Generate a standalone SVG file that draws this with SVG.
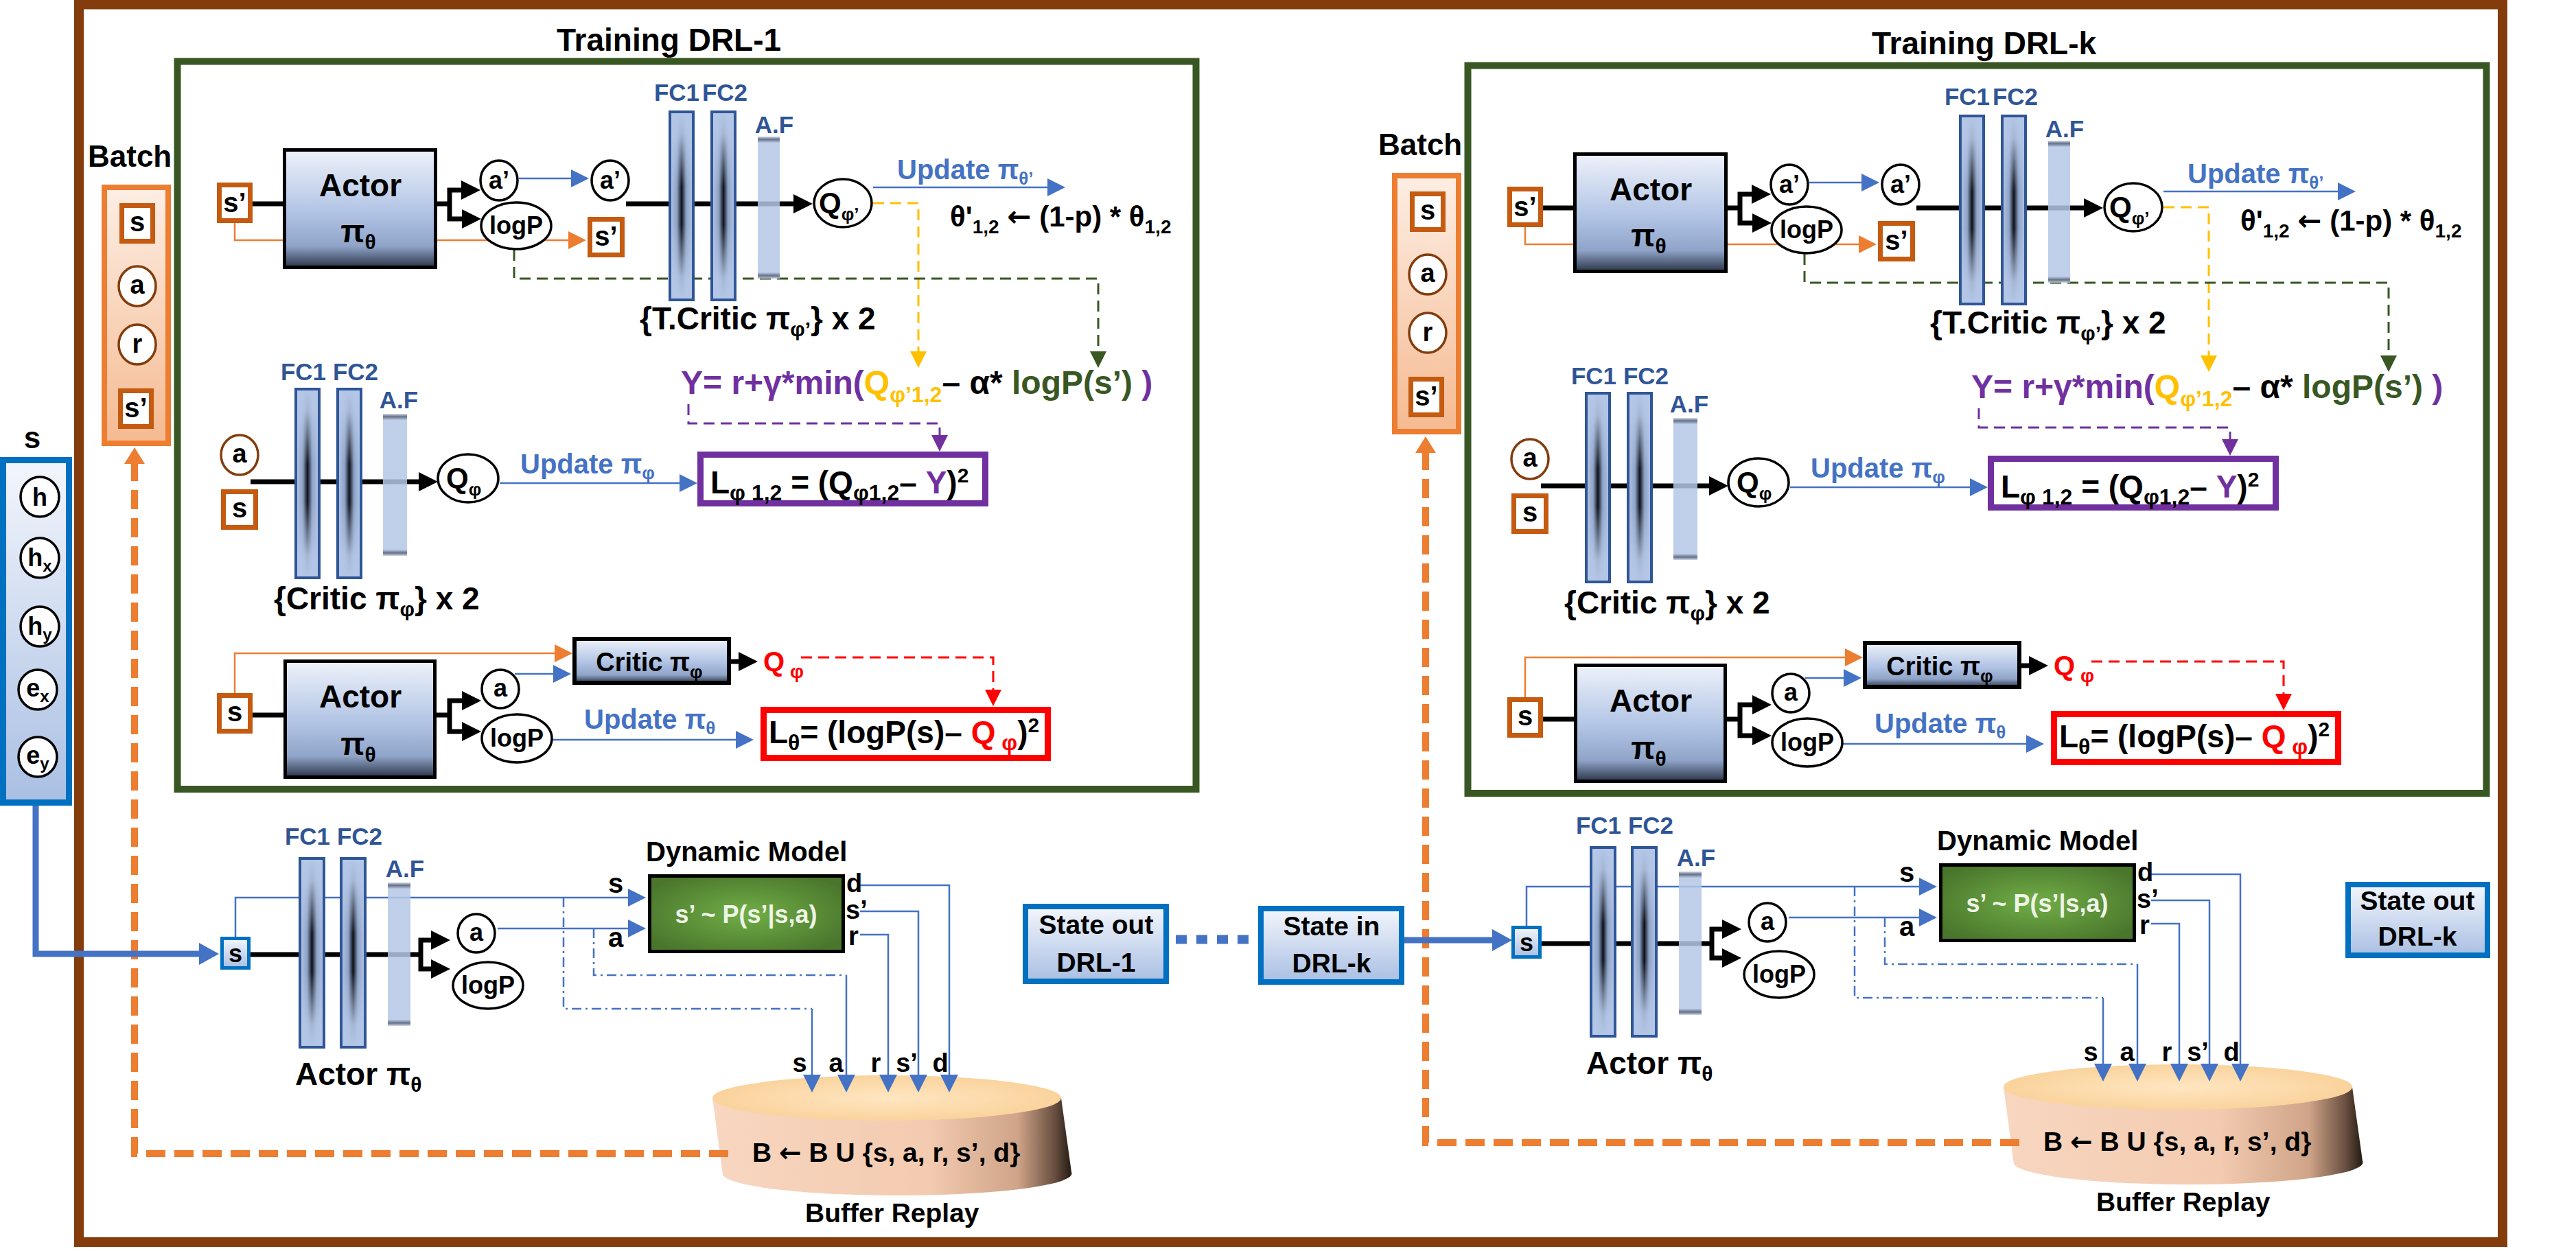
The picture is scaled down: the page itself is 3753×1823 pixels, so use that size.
<svg xmlns="http://www.w3.org/2000/svg" width="3753" height="1823" viewBox="0 0 3753 1823">
<defs>
<style>
text{font-family:"Liberation Sans",Arial,"DejaVu Sans",sans-serif;font-weight:bold}
.m{text-anchor:middle}
.ar{font-family:"DejaVu Sans",sans-serif}
.ttl{font-size:46px}
.fc{font-size:35px;fill:#2F5597}
.up{font-size:40px;fill:#4472C4}
.sb{font-size:39px}
.cir{fill:#fff;stroke:#000;stroke-width:3.5}
.cirB{fill:#fff;stroke:#843C0C;stroke-width:3.5}
.sq{fill:#fff;stroke:#C55A11;stroke-width:7}
.act{fill:url(#gActor);stroke:#000;stroke-width:5}
.fch{fill:url(#gFCh)}
.fcv{fill:url(#gFCv);stroke:#2F5597;stroke-width:4}
.af{fill:url(#gAF)}
.stb{fill:url(#gLB);stroke:#0070C0;stroke-width:8}
.kl{fill:none;stroke:#000;stroke-width:7}
.bl{fill:none;stroke:#4472C4;stroke-width:2.5}
.bdd{fill:none;stroke:#4472C4;stroke-width:2.5;stroke-dasharray:14 6 3 6}
.ol{fill:none;stroke:#ED7D31;stroke-width:2.5}
.yd{fill:none;stroke:#FFC000;stroke-width:3;stroke-dasharray:16 9}
.gd{fill:none;stroke:#385723;stroke-width:3;stroke-dasharray:16 9}
.pd{fill:none;stroke:#7030A0;stroke-width:3;stroke-dasharray:16 9}
.rd{fill:none;stroke:#FF0000;stroke-width:3;stroke-dasharray:16 9}
.od{fill:none;stroke:#ED7D31;stroke-width:10;stroke-dasharray:28 13}
.bt{fill:none;stroke:#4472C4;stroke-width:9}
.bdot{fill:none;stroke:#4472C4;stroke-width:13;stroke-dasharray:16 14}
</style>
<linearGradient id="gActor" x1="0" y1="0" x2="0" y2="1"><stop offset="0" stop-color="#EEF2FA"/><stop offset="0.55" stop-color="#AFC2E4"/><stop offset="0.82" stop-color="#8FA4C8"/><stop offset="1" stop-color="#2B3548"/></linearGradient>
<linearGradient id="gFCh" x1="0" y1="0" x2="1" y2="0"><stop offset="0" stop-color="#B4C7E7"/><stop offset="0.3" stop-color="#8EA2C6"/><stop offset="0.5" stop-color="#0B0F18"/><stop offset="0.7" stop-color="#8EA2C6"/><stop offset="1" stop-color="#B4C7E7"/></linearGradient>
<linearGradient id="gFCv" x1="0" y1="0" x2="0" y2="1"><stop offset="0" stop-color="#B4C7E7" stop-opacity="1"/><stop offset="0.12" stop-color="#B4C7E7" stop-opacity="0.9"/><stop offset="0.4" stop-color="#B4C7E7" stop-opacity="0"/><stop offset="0.6" stop-color="#B4C7E7" stop-opacity="0"/><stop offset="0.88" stop-color="#B4C7E7" stop-opacity="0.9"/><stop offset="1" stop-color="#B4C7E7" stop-opacity="1"/></linearGradient>
<linearGradient id="gAF" x1="0" y1="0" x2="0" y2="1"><stop offset="0" stop-color="#C9D5EA" stop-opacity="0.85"/><stop offset="0.02" stop-color="#4A5670" stop-opacity="0.85"/><stop offset="0.045" stop-color="#B4C7E7" stop-opacity="0.85"/><stop offset="0.955" stop-color="#B4C7E7" stop-opacity="0.85"/><stop offset="0.98" stop-color="#4A5670" stop-opacity="0.85"/><stop offset="1" stop-color="#C9D5EA" stop-opacity="0.85"/></linearGradient>
<linearGradient id="gLB" x1="0" y1="0" x2="0" y2="1"><stop offset="0" stop-color="#F3F6FC"/><stop offset="1" stop-color="#A9BFE3"/></linearGradient>
<linearGradient id="gBatch" x1="0" y1="0" x2="0" y2="1"><stop offset="0" stop-color="#FDEEE4"/><stop offset="1" stop-color="#F5BA91"/></linearGradient>
<radialGradient id="gDyn" cx="0.5" cy="0.5" r="0.6"><stop offset="0" stop-color="#71AE47"/><stop offset="1" stop-color="#4A762C"/></radialGradient>
<linearGradient id="gCyl" x1="0" y1="0" x2="1" y2="0"><stop offset="0" stop-color="#F8D6C0"/><stop offset="0.6" stop-color="#F3CBB0"/><stop offset="0.85" stop-color="#CFA488"/><stop offset="0.95" stop-color="#6B5142"/><stop offset="1" stop-color="#241A12"/></linearGradient>
<radialGradient id="gCylTop" cx="0.5" cy="0.5" r="0.5"><stop offset="0" stop-color="#FFE6C2"/><stop offset="1" stop-color="#FAD39C"/></radialGradient>
<marker id="mK" markerUnits="userSpaceOnUse" markerWidth="28" markerHeight="28" refX="0" refY="14" orient="auto"><path d="M0,0 L28,14 L0,28 Z" fill="#000"/></marker>
<marker id="mB" markerUnits="userSpaceOnUse" markerWidth="26" markerHeight="26" refX="0" refY="13" orient="auto"><path d="M0,0 L26,13 L0,26 Z" fill="#4472C4"/></marker>
<marker id="mO" markerUnits="userSpaceOnUse" markerWidth="26" markerHeight="26" refX="0" refY="13" orient="auto"><path d="M0,0 L26,13 L0,26 Z" fill="#ED7D31"/></marker>
<marker id="mY" markerUnits="userSpaceOnUse" markerWidth="24" markerHeight="24" refX="0" refY="12" orient="auto"><path d="M0,0 L24,12 L0,24 Z" fill="#FFC000"/></marker>
<marker id="mG" markerUnits="userSpaceOnUse" markerWidth="24" markerHeight="24" refX="0" refY="12" orient="auto"><path d="M0,0 L24,12 L0,24 Z" fill="#385723"/></marker>
<marker id="mP" markerUnits="userSpaceOnUse" markerWidth="24" markerHeight="24" refX="0" refY="12" orient="auto"><path d="M0,0 L24,12 L0,24 Z" fill="#7030A0"/></marker>
<marker id="mR" markerUnits="userSpaceOnUse" markerWidth="24" markerHeight="24" refX="0" refY="12" orient="auto"><path d="M0,0 L24,12 L0,24 Z" fill="#FF0000"/></marker>
<marker id="mBT" markerUnits="userSpaceOnUse" markerWidth="29" markerHeight="32" refX="0" refY="16" orient="auto"><path d="M0,0 L29,16 L0,32 Z" fill="#4472C4"/></marker>
<marker id="mOT" markerUnits="userSpaceOnUse" markerWidth="24" markerHeight="30" refX="0" refY="15" orient="auto"><path d="M0,0 L24,15 L0,30 Z" fill="#ED7D31"/></marker>
</defs>
<rect width="3753" height="1823" fill="#fff"/>

<!-- containers -->
<g id="outer-frame"><rect x="115" y="6.5" width="3531" height="1803.5" fill="none" stroke="#843C0C" stroke-width="14"/></g>
<g id="training-box-1"><rect x="258.5" y="89.5" width="1484" height="1060.5" fill="none" stroke="#385723" stroke-width="10"/><text class="ttl" x="811" y="74">Training DRL-1</text></g>
<g id="training-box-k"><rect x="2138.5" y="95.5" width="1484" height="1060.5" fill="none" stroke="#385723" stroke-width="10"/><text class="ttl" x="2727" y="79">Training DRL-k</text></g>

<!-- buffers (drawn under their incoming arrows) -->
<g id="buffer-1">
 <path d="M1038,1600 L1053,1712 A254,32 0 0 0 1561,1708 L1546,1600 Z" fill="url(#gCyl)"/>
 <ellipse cx="1292" cy="1600" rx="254" ry="33" fill="url(#gCylTop)"/>
 <text x="1096" y="1693" class="sb">B <tspan class="ar">←</tspan> B U {s, a, r, s’, d}</text>
 <text x="1173" y="1781" class="sb">Buffer Replay</text>
</g>
<g id="buffer-k" transform="translate(1881,-16)">
 <path d="M1038,1600 L1053,1712 A254,32 0 0 0 1561,1708 L1546,1600 Z" fill="url(#gCyl)"/>
 <ellipse cx="1292" cy="1600" rx="254" ry="33" fill="url(#gCylTop)"/>
 <text x="1096" y="1693" class="sb">B <tspan class="ar">←</tspan> B U {s, a, r, s’, d}</text>
 <text x="1173" y="1781" class="sb">Buffer Replay</text>
</g>

<!-- connectors -->
<g id="connectors">
 <g id="conn-1">
  <path class="ol" d="M342,324 V350 H828" marker-end="url(#mO)"/>
  <path class="kl" d="M367,297 H414"/>
  <path class="kl" d="M634,297 H655"/>
  <path class="kl" d="M655,297 V277 H672" marker-end="url(#mK)"/>
  <path class="kl" d="M655,297 V319 H673" marker-end="url(#mK)"/>
  <path class="bl" d="M756,260 H832" marker-end="url(#mB)"/>
  <path class="kl" d="M912,297 H1156" marker-end="url(#mK)"/>
  <path class="bl" d="M1272,273 H1526" marker-end="url(#mB)"/>
  <path class="yd" d="M1272,296 H1338 V512" marker-end="url(#mY)"/>
  <path class="gd" d="M749,364 V406 H1600 V512" marker-end="url(#mG)"/>
  <path class="pd" d="M1003,589 V617 H1369 V634" marker-end="url(#mP)"/>
  <path class="kl" d="M365,702 H610" marker-end="url(#mK)"/>
  <path class="bl" d="M728,704 H990" marker-end="url(#mB)"/>
  <path class="ol" d="M342,1010 V952 H808" marker-end="url(#mO)"/>
  <path class="kl" d="M368,1042 H416"/>
  <path class="kl" d="M633,1042 H655"/>
  <path class="kl" d="M655,1042 V1021 H673" marker-end="url(#mK)"/>
  <path class="kl" d="M655,1042 V1066 H673" marker-end="url(#mK)"/>
  <path class="bl" d="M750,982 H806" marker-end="url(#mB)"/>
  <path class="kl" d="M1064,964 H1076" marker-end="url(#mK)"/>
  <path class="rd" d="M1167,958 H1447 V1005" marker-end="url(#mR)"/>
  <path class="bl" d="M805,1078 H1072" marker-end="url(#mB)"/>
  <path class="od" d="M1061,1681 H196 V676" marker-end="url(#mOT)"/>
  <path class="bt" d="M52,1174 V1390 H290" marker-end="url(#mBT)"/>
  <path class="bl" d="M343,1366 V1308 H915" marker-end="url(#mB)"/>
  <path class="kl" d="M365,1391 H613"/>
  <path class="kl" d="M613,1391 V1370 H628" marker-end="url(#mK)"/>
  <path class="kl" d="M613,1391 V1412 H628" marker-end="url(#mK)"/>
  <path class="bl" d="M725,1353 H915" marker-end="url(#mB)"/>
  <path class="bdd" d="M821,1308 V1470 H1183"/>
  <path class="bl" d="M1183,1470 V1566" marker-end="url(#mB)"/>
  <path class="bdd" d="M865,1353 V1421 H1233"/>
  <path class="bl" d="M1233,1421 V1566" marker-end="url(#mB)"/>
  <path class="bl" d="M1253,1362 H1294 V1566" marker-end="url(#mB)"/>
  <path class="bl" d="M1253,1328 H1338 V1566" marker-end="url(#mB)"/>
  <path class="bl" d="M1253,1290 H1383 V1566" marker-end="url(#mB)"/>
  <text x="886" y="1301" font-size="40">s</text>
  <text x="886" y="1380" font-size="40">a</text>
  <text x="1233" y="1300" font-size="38">d</text>
  <text x="1232" y="1339" font-size="38">s’</text>
  <text x="1236" y="1377" font-size="38">r</text>
  <text class="m" x="1165" y="1562" font-size="38">s</text>
  <text class="m" x="1218" y="1562" font-size="38">a</text>
  <text class="m" x="1276" y="1562" font-size="38">r</text>
  <text class="m" x="1321" y="1562" font-size="38">s’</text>
  <text class="m" x="1370" y="1562" font-size="38">d</text>
 </g>
 <g id="conn-mid">
  <path class="bdot" d="M1713,1369 H1831"/>
 </g>
 <g id="conn-k-train" transform="translate(1880,6)">
  <path class="ol" d="M342,324 V350 H828" marker-end="url(#mO)"/>
  <path class="kl" d="M367,297 H414"/>
  <path class="kl" d="M634,297 H655"/>
  <path class="kl" d="M655,297 V277 H672" marker-end="url(#mK)"/>
  <path class="kl" d="M655,297 V319 H673" marker-end="url(#mK)"/>
  <path class="bl" d="M756,260 H832" marker-end="url(#mB)"/>
  <path class="kl" d="M912,297 H1156" marker-end="url(#mK)"/>
  <path class="bl" d="M1272,273 H1526" marker-end="url(#mB)"/>
  <path class="yd" d="M1272,296 H1338 V512" marker-end="url(#mY)"/>
  <path class="gd" d="M749,364 V406 H1600 V512" marker-end="url(#mG)"/>
  <path class="pd" d="M1003,589 V617 H1369 V634" marker-end="url(#mP)"/>
  <path class="kl" d="M365,702 H610" marker-end="url(#mK)"/>
  <path class="bl" d="M728,704 H990" marker-end="url(#mB)"/>
  <path class="ol" d="M342,1010 V952 H808" marker-end="url(#mO)"/>
  <path class="kl" d="M368,1042 H416"/>
  <path class="kl" d="M633,1042 H655"/>
  <path class="kl" d="M655,1042 V1021 H673" marker-end="url(#mK)"/>
  <path class="kl" d="M655,1042 V1066 H673" marker-end="url(#mK)"/>
  <path class="bl" d="M750,982 H806" marker-end="url(#mB)"/>
  <path class="kl" d="M1064,964 H1076" marker-end="url(#mK)"/>
  <path class="rd" d="M1167,958 H1447 V1005" marker-end="url(#mR)"/>
  <path class="bl" d="M805,1078 H1072" marker-end="url(#mB)"/>
 </g>
 <g id="conn-k-exec" transform="translate(1881,-16)">
  <path class="od" d="M1061,1681 H196 V676" marker-end="url(#mOT)"/>
  <path class="bl" d="M343,1366 V1308 H915" marker-end="url(#mB)"/>
  <path class="kl" d="M365,1391 H613"/>
  <path class="kl" d="M613,1391 V1370 H628" marker-end="url(#mK)"/>
  <path class="kl" d="M613,1391 V1412 H628" marker-end="url(#mK)"/>
  <path class="bl" d="M725,1353 H915" marker-end="url(#mB)"/>
  <path class="bdd" d="M821,1308 V1470 H1183"/>
  <path class="bl" d="M1183,1470 V1566" marker-end="url(#mB)"/>
  <path class="bdd" d="M865,1353 V1421 H1233"/>
  <path class="bl" d="M1233,1421 V1566" marker-end="url(#mB)"/>
  <path class="bl" d="M1253,1362 H1294 V1566" marker-end="url(#mB)"/>
  <path class="bl" d="M1253,1328 H1338 V1566" marker-end="url(#mB)"/>
  <path class="bl" d="M1253,1290 H1383 V1566" marker-end="url(#mB)"/>
  <text x="886" y="1301" font-size="40">s</text>
  <text x="886" y="1380" font-size="40">a</text>
  <text x="1233" y="1300" font-size="38">d</text>
  <text x="1232" y="1339" font-size="38">s’</text>
  <text x="1236" y="1377" font-size="38">r</text>
  <text class="m" x="1165" y="1562" font-size="38">s</text>
  <text class="m" x="1218" y="1562" font-size="38">a</text>
  <text class="m" x="1276" y="1562" font-size="38">r</text>
  <text class="m" x="1321" y="1562" font-size="38">s’</text>
  <text class="m" x="1370" y="1562" font-size="38">d</text>
 </g>
 <path class="bt" d="M2046,1370 H2174" marker-end="url(#mBT)"/>
</g>

<!-- DRL-1 nodes -->
<g id="state-panel">
 <text class="m" x="47" y="653" font-size="44">s</text>
 <rect x="4.5" y="670.5" width="96" height="499" fill="url(#gLB)" stroke="#0070C0" stroke-width="9"/>
 <ellipse class="cir" cx="58" cy="724" rx="28" ry="29"/><text class="m" x="58" y="737" font-size="36">h</text>
 <ellipse class="cir" cx="58" cy="813" rx="28" ry="29"/><text class="m" x="58" y="825" font-size="36">h<tspan dy="8" font-size="24">x</tspan></text>
 <ellipse class="cir" cx="58" cy="913" rx="28" ry="29"/><text class="m" x="58" y="925" font-size="36">h<tspan dy="8" font-size="24">y</tspan></text>
 <ellipse class="cir" cx="55" cy="1005" rx="28" ry="29"/><text class="m" x="55" y="1015" font-size="36">e<tspan dy="8" font-size="24">x</tspan></text>
 <ellipse class="cir" cx="55" cy="1103" rx="28" ry="29"/><text class="m" x="55" y="1113" font-size="36">e<tspan dy="8" font-size="24">y</tspan></text>
</g>
<g id="batch-1">
 <text x="128" y="243" font-size="44">Batch</text>
 <rect x="152" y="273" width="93" height="373" fill="url(#gBatch)" stroke="#ED7D31" stroke-width="8"/>
 <rect class="sq" x="177.5" y="299.5" width="45" height="52"/><text class="m" x="200" y="337" font-size="40">s</text>
 <ellipse class="cirB" cx="200" cy="417" rx="27" ry="29"/><text class="m" x="200" y="428" font-size="38">a</text>
 <ellipse class="cirB" cx="200" cy="502" rx="27" ry="29"/><text class="m" x="200" y="514" font-size="38">r</text>
 <rect class="sq" x="175.5" y="569.5" width="45" height="52"/><text class="m" x="198" y="608" font-size="40">s’</text>
</g>
<g id="dyn-model-1">
 <text x="941" y="1255" font-size="40">Dynamic Model</text>
 <rect x="946.5" y="1276.5" width="282" height="110" fill="url(#gDyn)" stroke="#000" stroke-width="5"/>
 <text class="m" x="1087" y="1345" font-size="36" style="fill:#EEF4E6">s’ ~ P(s’|s,a)</text>
</g>
<g id="state-out-1"><rect class="stb" x="1494" y="1321" width="205" height="109"/><text class="m sb" x="1597" y="1361">State out</text><text class="m sb" x="1597" y="1416">DRL-1</text></g>
<g id="state-in-k"><rect class="stb" x="1837" y="1324" width="205" height="107"/><text class="m sb" x="1940" y="1363">State in</text><text class="m sb" x="1940" y="1417">DRL-k</text></g>
<g id="state-out-k"><rect class="stb" x="3421" y="1289" width="203" height="103"/><text class="m sb" x="3522" y="1326">State out</text><text class="m sb" x="3522" y="1378">DRL-k</text></g>

<g id="train-nodes-1">
 <g id="sp-top-1"><rect class="sq" x="319.5" y="269.5" width="45" height="52"/><text class="m" x="342" y="309" font-size="40">s’</text></g>
 <g id="actor-top-1"><rect class="act" x="414.5" y="218.5" width="220" height="171"/><text class="m" x="525" y="286" font-size="46">Actor</text><text class="m" x="522" y="353" font-size="46">π<tspan dy="10" font-size="30">θ</tspan></text></g>
 <g id="ap-1"><ellipse class="cir" cx="727" cy="263" rx="27" ry="29"/><text class="m" x="727" y="275" font-size="36">a’</text></g>
 <g id="logp-top-1"><ellipse class="cir" cx="752" cy="329" rx="51" ry="34"/><text class="m" x="752" y="341" font-size="36">logP</text></g>
 <g id="ap2-1"><ellipse class="cir" cx="889" cy="263" rx="27" ry="29"/><text class="m" x="889" y="275" font-size="36">a’</text></g>
 <g id="sp2-1"><rect class="sq" x="859.5" y="319.5" width="47" height="52"/><text class="m" x="883" y="358" font-size="40">s’</text></g>
 <g id="tcritic-1">
  <rect class="fch" x="976" y="163" width="34" height="274"/><rect class="fcv" x="976" y="163" width="34" height="274"/>
  <rect class="fch" x="1037" y="163" width="34" height="274"/><rect class="fcv" x="1037" y="163" width="34" height="274"/>
  <rect class="af" x="1104" y="199" width="32" height="207"/>
  <text class="fc m" x="986" y="147">FC1</text><text class="fc m" x="1056" y="147">FC2</text><text class="fc m" x="1128" y="194">A.F</text>
  <text x="932" y="480" font-size="46">{T.Critic π<tspan dy="10" font-size="30">φ’</tspan><tspan dy="-10">} x 2</tspan></text>
 </g>
 <g id="qp-1"><ellipse class="cir" cx="1228" cy="296" rx="42" ry="35"/><text x="1193" y="310" font-size="42">Q<tspan dy="11" font-size="26">φ’</tspan></text></g>
 <g id="upd-t-1"><text class="up" x="1307" y="261">Update π<tspan dy="8" font-size="26">θ’</tspan></text></g>
 <g id="soft-1"><text x="1384" y="330" font-size="42">θ'<tspan dy="10" font-size="28">1,2</tspan><tspan dy="-10"> </tspan><tspan class="ar">←</tspan><tspan> (1-p) * θ</tspan><tspan dy="10" font-size="28">1,2</tspan></text></g>
 <g id="yeq-1"><text x="992" y="574" font-size="48"><tspan style="fill:#7030A0">Y= r+γ*min(</tspan><tspan style="fill:#FFC000">Q</tspan><tspan dy="12" font-size="32" style="fill:#FFC000">φ’1,2</tspan><tspan dy="-12">– α* </tspan><tspan style="fill:#385723">logP(s’)</tspan><tspan style="fill:#7030A0"> )</tspan></text></g>
 <g id="a-c-1"><ellipse class="cirB" cx="349" cy="663" rx="27" ry="29"/><text class="m" x="349" y="674" font-size="38">a</text></g>
 <g id="s-c-1"><rect class="sq" x="325.5" y="716.5" width="47" height="52"/><text class="m" x="349" y="754" font-size="40">s</text></g>
 <g id="critic-1">
  <rect class="fch" x="431" y="567" width="34" height="275"/><rect class="fcv" x="431" y="567" width="34" height="275"/>
  <rect class="fch" x="492" y="567" width="34" height="275"/><rect class="fcv" x="492" y="567" width="34" height="275"/>
  <rect class="af" x="558" y="603" width="35" height="207"/>
  <text class="fc m" x="442" y="554">FC1</text><text class="fc m" x="518" y="554">FC2</text><text class="fc m" x="581" y="595">A.F</text>
  <text x="399" y="888" font-size="46">{Critic π<tspan dy="10" font-size="30">φ</tspan><tspan dy="-10">} x 2</tspan></text>
 </g>
 <g id="q-c-1"><ellipse class="cir" cx="682" cy="697" rx="44" ry="35"/><text x="650" y="711" font-size="42">Q<tspan dy="11" font-size="26">φ</tspan></text></g>
 <g id="upd-c-1"><text class="up" x="758" y="690">Update π<tspan dy="8" font-size="26">φ</tspan></text></g>
 <g id="lphi-1"><rect x="1020.5" y="662.5" width="415" height="71" fill="#fff" stroke="#7030A0" stroke-width="9"/><text x="1035" y="719" font-size="46">L<tspan dy="10" font-size="32">φ 1,2</tspan><tspan dy="-10"> = (Q</tspan><tspan dy="10" font-size="32">φ1,2</tspan><tspan dy="-10">– </tspan><tspan style="fill:#7030A0">Y</tspan>)<tspan dy="-16" font-size="30">2</tspan></text></g>
 <g id="s-a-1"><rect class="sq" x="319.5" y="1013.5" width="45" height="52"/><text class="m" x="342" y="1051" font-size="40">s</text></g>
 <g id="actor-a-1"><rect class="act" x="415.5" y="963.5" width="218" height="169"/><text class="m" x="525" y="1031" font-size="46">Actor</text><text class="m" x="522" y="1100" font-size="46">π<tspan dy="10" font-size="30">θ</tspan></text></g>
 <g id="a-a-1"><ellipse class="cir" cx="729" cy="1004" rx="27" ry="28"/><text class="m" x="729" y="1015" font-size="36">a</text></g>
 <g id="logp-a-1"><ellipse class="cir" cx="753" cy="1076" rx="51" ry="35"/><text class="m" x="753" y="1088" font-size="36">logP</text></g>
 <g id="criticbox-1"><rect class="act" x="837" y="931" width="225" height="64" style="stroke-width:6"/><text class="m" x="946" y="978" font-size="38">Critic π<tspan dy="10" font-size="26">φ</tspan></text></g>
 <g id="qphi-1"><text x="1112" y="978" font-size="40" style="fill:#FF0000">Q<tspan dy="10" font-size="28"> φ</tspan></text></g>
 <g id="upd-a-1"><text class="up" x="851" y="1062">Update π<tspan dy="8" font-size="26">θ</tspan></text></g>
 <g id="ltheta-1"><rect x="1112.5" y="1034.5" width="414" height="70" fill="#fff" stroke="#FF0000" stroke-width="9"/><text x="1120" y="1083" font-size="46">L<tspan dy="10" font-size="32">θ</tspan><tspan dy="-10">= (logP(s)– </tspan><tspan style="fill:#FF0000">Q</tspan><tspan dy="10" font-size="32" style="fill:#FF0000"> φ</tspan><tspan dy="-10">)</tspan><tspan dy="-16" font-size="30">2</tspan></text></g>
</g>

<g id="exec-nodes-1">
 <g id="s-in-1"><rect x="323.5" y="1367.5" width="39" height="43" fill="url(#gLB)" stroke="#0070C0" stroke-width="5"/><text class="m" x="343" y="1402" font-size="36">s</text></g>
 <g id="actor-net-1">
  <rect class="fch" x="437" y="1251" width="35" height="275"/><rect class="fcv" x="437" y="1251" width="35" height="275"/>
  <rect class="fch" x="497" y="1251" width="35" height="275"/><rect class="fcv" x="497" y="1251" width="35" height="275"/>
  <rect class="af" x="565" y="1286" width="33" height="209"/>
  <text class="fc m" x="448" y="1231">FC1</text><text class="fc m" x="524" y="1231">FC2</text><text class="fc m" x="590" y="1278">A.F</text>
  <text x="430" y="1581" font-size="46">Actor π<tspan dy="10" font-size="30">θ</tspan></text>
 </g>
 <g id="a-b-1"><ellipse class="cir" cx="694" cy="1360" rx="27" ry="28"/><text class="m" x="694" y="1371" font-size="36">a</text></g>
 <g id="logp-b-1"><ellipse class="cir" cx="711" cy="1436" rx="51" ry="34"/><text class="m" x="711" y="1448" font-size="36">logP</text></g>
</g>

<!-- DRL-k nodes -->
<g id="batch-k" transform="translate(1880,-17)">
 <text x="128" y="243" font-size="44">Batch</text>
 <rect x="152" y="273" width="93" height="373" fill="url(#gBatch)" stroke="#ED7D31" stroke-width="8"/>
 <rect class="sq" x="177.5" y="299.5" width="45" height="52"/><text class="m" x="200" y="337" font-size="40">s</text>
 <ellipse class="cirB" cx="200" cy="417" rx="27" ry="29"/><text class="m" x="200" y="428" font-size="38">a</text>
 <ellipse class="cirB" cx="200" cy="502" rx="27" ry="29"/><text class="m" x="200" y="514" font-size="38">r</text>
 <rect class="sq" x="175.5" y="569.5" width="45" height="52"/><text class="m" x="198" y="608" font-size="40">s’</text>
</g>
<g id="train-nodes-k" transform="translate(1880,6)">
 <g id="sp-top-k"><rect class="sq" x="319.5" y="269.5" width="45" height="52"/><text class="m" x="342" y="309" font-size="40">s’</text></g>
 <g id="actor-top-k"><rect class="act" x="414.5" y="218.5" width="220" height="171"/><text class="m" x="525" y="286" font-size="46">Actor</text><text class="m" x="522" y="353" font-size="46">π<tspan dy="10" font-size="30">θ</tspan></text></g>
 <g id="ap-k"><ellipse class="cir" cx="727" cy="263" rx="27" ry="29"/><text class="m" x="727" y="275" font-size="36">a’</text></g>
 <g id="logp-top-k"><ellipse class="cir" cx="752" cy="329" rx="51" ry="34"/><text class="m" x="752" y="341" font-size="36">logP</text></g>
 <g id="ap2-k"><ellipse class="cir" cx="889" cy="263" rx="27" ry="29"/><text class="m" x="889" y="275" font-size="36">a’</text></g>
 <g id="sp2-k"><rect class="sq" x="859.5" y="319.5" width="47" height="52"/><text class="m" x="883" y="358" font-size="40">s’</text></g>
 <g id="tcritic-k">
  <rect class="fch" x="976" y="163" width="34" height="274"/><rect class="fcv" x="976" y="163" width="34" height="274"/>
  <rect class="fch" x="1037" y="163" width="34" height="274"/><rect class="fcv" x="1037" y="163" width="34" height="274"/>
  <rect class="af" x="1104" y="199" width="32" height="207"/>
  <text class="fc m" x="986" y="147">FC1</text><text class="fc m" x="1056" y="147">FC2</text><text class="fc m" x="1128" y="194">A.F</text>
  <text x="932" y="480" font-size="46">{T.Critic π<tspan dy="10" font-size="30">φ’</tspan><tspan dy="-10">} x 2</tspan></text>
 </g>
 <g id="qp-k"><ellipse class="cir" cx="1228" cy="296" rx="42" ry="35"/><text x="1193" y="310" font-size="42">Q<tspan dy="11" font-size="26">φ’</tspan></text></g>
 <g id="upd-t-k"><text class="up" x="1307" y="261">Update π<tspan dy="8" font-size="26">θ’</tspan></text></g>
 <g id="soft-k"><text x="1384" y="330" font-size="42">θ'<tspan dy="10" font-size="28">1,2</tspan><tspan dy="-10"> </tspan><tspan class="ar">←</tspan><tspan> (1-p) * θ</tspan><tspan dy="10" font-size="28">1,2</tspan></text></g>
 <g id="yeq-k"><text x="992" y="574" font-size="48"><tspan style="fill:#7030A0">Y= r+γ*min(</tspan><tspan style="fill:#FFC000">Q</tspan><tspan dy="12" font-size="32" style="fill:#FFC000">φ’1,2</tspan><tspan dy="-12">– α* </tspan><tspan style="fill:#385723">logP(s’)</tspan><tspan style="fill:#7030A0"> )</tspan></text></g>
 <g id="a-c-k"><ellipse class="cirB" cx="349" cy="663" rx="27" ry="29"/><text class="m" x="349" y="674" font-size="38">a</text></g>
 <g id="s-c-k"><rect class="sq" x="325.5" y="716.5" width="47" height="52"/><text class="m" x="349" y="754" font-size="40">s</text></g>
 <g id="critic-k">
  <rect class="fch" x="431" y="567" width="34" height="275"/><rect class="fcv" x="431" y="567" width="34" height="275"/>
  <rect class="fch" x="492" y="567" width="34" height="275"/><rect class="fcv" x="492" y="567" width="34" height="275"/>
  <rect class="af" x="558" y="603" width="35" height="207"/>
  <text class="fc m" x="442" y="554">FC1</text><text class="fc m" x="518" y="554">FC2</text><text class="fc m" x="581" y="595">A.F</text>
  <text x="399" y="888" font-size="46">{Critic π<tspan dy="10" font-size="30">φ</tspan><tspan dy="-10">} x 2</tspan></text>
 </g>
 <g id="q-c-k"><ellipse class="cir" cx="682" cy="697" rx="44" ry="35"/><text x="650" y="711" font-size="42">Q<tspan dy="11" font-size="26">φ</tspan></text></g>
 <g id="upd-c-k"><text class="up" x="758" y="690">Update π<tspan dy="8" font-size="26">φ</tspan></text></g>
 <g id="lphi-k"><rect x="1020.5" y="662.5" width="415" height="71" fill="#fff" stroke="#7030A0" stroke-width="9"/><text x="1035" y="719" font-size="46">L<tspan dy="10" font-size="32">φ 1,2</tspan><tspan dy="-10"> = (Q</tspan><tspan dy="10" font-size="32">φ1,2</tspan><tspan dy="-10">– </tspan><tspan style="fill:#7030A0">Y</tspan>)<tspan dy="-16" font-size="30">2</tspan></text></g>
 <g id="s-a-k"><rect class="sq" x="319.5" y="1013.5" width="45" height="52"/><text class="m" x="342" y="1051" font-size="40">s</text></g>
 <g id="actor-a-k"><rect class="act" x="415.5" y="963.5" width="218" height="169"/><text class="m" x="525" y="1031" font-size="46">Actor</text><text class="m" x="522" y="1100" font-size="46">π<tspan dy="10" font-size="30">θ</tspan></text></g>
 <g id="a-a-k"><ellipse class="cir" cx="729" cy="1004" rx="27" ry="28"/><text class="m" x="729" y="1015" font-size="36">a</text></g>
 <g id="logp-a-k"><ellipse class="cir" cx="753" cy="1076" rx="51" ry="35"/><text class="m" x="753" y="1088" font-size="36">logP</text></g>
 <g id="criticbox-k"><rect class="act" x="837" y="931" width="225" height="64" style="stroke-width:6"/><text class="m" x="946" y="978" font-size="38">Critic π<tspan dy="10" font-size="26">φ</tspan></text></g>
 <g id="qphi-k"><text x="1112" y="978" font-size="40" style="fill:#FF0000">Q<tspan dy="10" font-size="28"> φ</tspan></text></g>
 <g id="upd-a-k"><text class="up" x="851" y="1062">Update π<tspan dy="8" font-size="26">θ</tspan></text></g>
 <g id="ltheta-k"><rect x="1112.5" y="1034.5" width="414" height="70" fill="#fff" stroke="#FF0000" stroke-width="9"/><text x="1120" y="1083" font-size="46">L<tspan dy="10" font-size="32">θ</tspan><tspan dy="-10">= (logP(s)– </tspan><tspan style="fill:#FF0000">Q</tspan><tspan dy="10" font-size="32" style="fill:#FF0000"> φ</tspan><tspan dy="-10">)</tspan><tspan dy="-16" font-size="30">2</tspan></text></g>
</g>
<g id="exec-nodes-k" transform="translate(1881,-16)">
 <g id="s-in-k"><rect x="323.5" y="1367.5" width="39" height="43" fill="url(#gLB)" stroke="#0070C0" stroke-width="5"/><text class="m" x="343" y="1402" font-size="36">s</text></g>
 <g id="actor-net-k">
  <rect class="fch" x="437" y="1251" width="35" height="275"/><rect class="fcv" x="437" y="1251" width="35" height="275"/>
  <rect class="fch" x="497" y="1251" width="35" height="275"/><rect class="fcv" x="497" y="1251" width="35" height="275"/>
  <rect class="af" x="565" y="1286" width="33" height="209"/>
  <text class="fc m" x="448" y="1231">FC1</text><text class="fc m" x="524" y="1231">FC2</text><text class="fc m" x="590" y="1278">A.F</text>
  <text x="430" y="1581" font-size="46">Actor π<tspan dy="10" font-size="30">θ</tspan></text>
 </g>
 <g id="a-b-k"><ellipse class="cir" cx="694" cy="1360" rx="27" ry="28"/><text class="m" x="694" y="1371" font-size="36">a</text></g>
 <g id="logp-b-k"><ellipse class="cir" cx="711" cy="1436" rx="51" ry="34"/><text class="m" x="711" y="1448" font-size="36">logP</text></g>
 <g id="dyn-model-k">
  <text x="941" y="1255" font-size="40">Dynamic Model</text>
  <rect x="946.5" y="1276.5" width="282" height="110" fill="url(#gDyn)" stroke="#000" stroke-width="5"/>
  <text class="m" x="1087" y="1345" font-size="36" style="fill:#EEF4E6">s’ ~ P(s’|s,a)</text>
 </g>
</g>
</svg>
